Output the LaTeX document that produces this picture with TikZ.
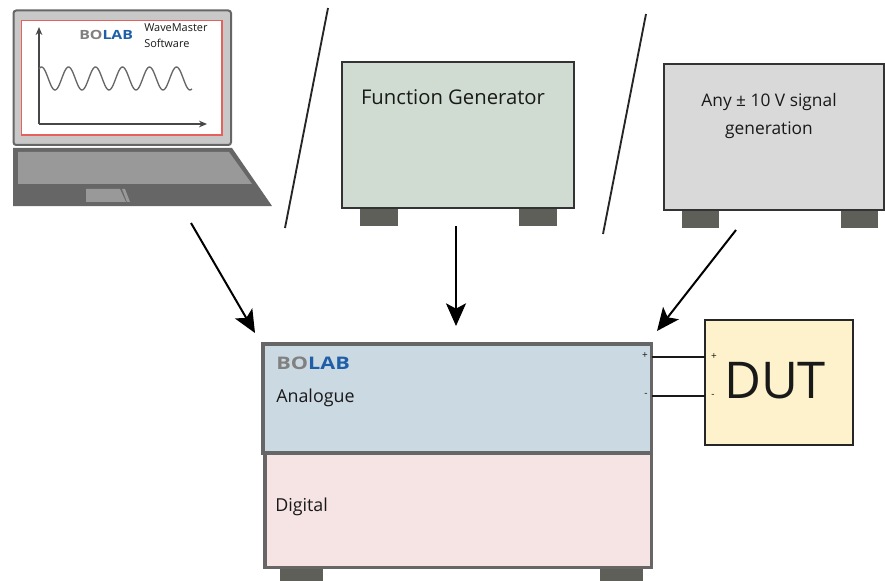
\documentclass[tikz,border=0pt]{standalone}
\usepackage{fontspec}
\setmainfont{Open Sans}
\usetikzlibrary{arrows.meta}
\definecolor{bdr}{HTML}{666666}
\definecolor{foot}{HTML}{5F5F5A}
\definecolor{logoblue}{HTML}{1F5FA8}
\definecolor{logogray}{HTML}{808080}
\definecolor{fgfill}{HTML}{D0DCD2}
\definecolor{sgfill}{HTML}{D9D9D9}
\definecolor{anafill}{HTML}{CBD9E3}
\definecolor{digfill}{HTML}{F5E4E3}
\definecolor{dutfill}{HTML}{FDF2CB}
\definecolor{scrframe}{HTML}{C8C8C8}
\definecolor{scrred}{HTML}{E4615C}
\tikzset{
  box/.style={draw=#1,line width=1.6pt,anchor=north west,inner sep=0pt,outer sep=0pt},
  footbox/.style={fill=foot,anchor=north west,inner sep=0pt,outer sep=0pt},
  txt/.style={inner sep=0pt,text=black!90,align=center},
  bigarrow/.style={line width=1.5pt,draw=black,-{Stealth[length=17pt,width=15pt,inset=4pt]}},
  divider/.style={line width=1.4pt,draw=black!85},
  lead/.style={line width=1.5pt,draw=black!90},
}
\newcommand{\logo}[1]{{\fontsize{#1}{#1}\fontspec{Open Sans}[FakeStretch=1.25]\bfseries\textcolor{logogray}{BO}\textcolor{logoblue}{LAB}}}
\begin{document}
\begin{tikzpicture}[x=0.75pt,y=-0.75pt]
\useasboundingbox (0,0) rectangle (885,581);
% laptop
\draw[bdr,fill=scrframe,line width=1.5pt,rounded corners=2pt] (13.5,10.5) rectangle (231,145);
\draw[draw=scrred,fill=white,line width=0.9pt] (21.5,20.5) rectangle (222,135);
\fill[bdr] (13,148) -- (232,148) -- (272,206) -- (13,206) -- cycle;
\fill[black!40] (18,152) -- (229,152) -- (252,184) -- (18,184) -- cycle;
\fill[black!40] (86,189) -- (120,189) -- (126,202) -- (86,202) -- cycle;
\fill[black!40] (122,189) -- (125,189) -- (130,202) -- (127,202) -- cycle;
\draw[bdr!70!black,line width=1.2pt,-{Stealth[length=6pt,width=5pt]}] (39,124) -- (39,27);
\draw[bdr!70!black,line width=1.2pt,-{Stealth[length=6pt,width=5pt]}] (38.5,124) -- (207,124);
\draw[bdr,line width=1pt,domain=39:192,samples=160,smooth] plot (\x,{78.5-11.5*cos(13.333*(\x-41.5))});
\node[txt,anchor=west] (logoa) at (79,35) {\logo{9.5pt}};
\node[txt,anchor=north west,align=left,font=\fontsize{8.2pt}{12pt}\selectfont] (sw) at (144,23) {WaveMaster\\Software};
% dividers
\coordinate (d1a) at (328,8); \coordinate (d1b) at (285,228);
\coordinate (d2a) at (646,14); \coordinate (d2b) at (603,234);
\draw[divider] (d1a) -- (d1b);
\draw[divider] (d2a) -- (d2b);
% function generator
\node[footbox,minimum width=28.5pt,minimum height=13pt] (fga) at (360,209) {};
\node[footbox,minimum width=28.5pt,minimum height=13pt] (fgb) at (519,209) {};
\node[box=black!80,fill=fgfill,minimum width=174pt,minimum height=109.5pt] (fg) at (342,62) {};
\node[txt,font=\fontsize{15.2pt}{17pt}\selectfont] (fgt) at (453,97) {Function Generator};
% signal box
\node[footbox,minimum width=28pt,minimum height=13pt] (sga) at (682,211) {};
\node[footbox,minimum width=28pt,minimum height=13pt] (sgb) at (841,211) {};
\node[box=black!80,fill=sgfill,minimum width=165pt,minimum height=109.5pt] (sg) at (664,64) {};
\node[txt,font=\fontsize{13pt}{21pt}\selectfont] (sgt) at (769,115.5) {Any ± 10 V signal\\generation};
% main unit
\node[footbox,minimum width=32pt,minimum height=11pt] (ma) at (280,569) {};
\node[footbox,minimum width=32pt,minimum height=11pt] (mb) at (600,569) {};
\node[box=bdr,fill=anafill,line width=2.6pt,minimum width=291.5pt,minimum height=81.75pt] (ana) at (263,344) {};
\node[box=bdr,fill=digfill,line width=2.6pt,minimum width=290pt,minimum height=86pt] (dig) at (265,453) {};
\node[txt,anchor=west] (logob) at (276,363) {\logo{13pt}};
\node[txt,anchor=west,font=\fontsize{13.4pt}{15pt}\selectfont] (analab) at (276,398) {Analogue};
\node[txt,anchor=west,font=\fontsize{13.4pt}{15pt}\selectfont] (diglab) at (275,507) {Digital};
\node[txt,font=\fontsize{7.5pt}{8pt}\selectfont] (pl) at (645,356) {+};
\node[txt,font=\fontsize{7.5pt}{8pt}\selectfont] (mi) at (646,395) {-};
% DUT
\node[box=black!85,fill=dutfill,line width=1.5pt,minimum width=111pt,minimum height=94pt] (dut) at (705,320) {};
\node[txt,font=\fontsize{38pt}{40pt}\selectfont] (dutt) at (775,381) {DUT};
\node[txt,font=\fontsize{7.5pt}{8pt}\selectfont] (pr) at (714,357) {+};
\node[txt,font=\fontsize{7.5pt}{8pt}\selectfont] (mr) at (713,396) {-};
\draw[lead] (ana.east |- pr) -- (dut.west |- pr);
\draw[lead] (ana.east |- mr) -- (dut.west |- mr);
% arrows
\coordinate (a1) at (191,223); \coordinate (a1e) at (255,333);
\coordinate (a2) at (456,226); \coordinate (a2e) at (456,326);
\coordinate (a3) at (736,230); \coordinate (a3e) at (657,331);
\draw[bigarrow] (a1) -- (a1e);
\draw[bigarrow] (a2) -- (a2e);
\draw[bigarrow] (a3) -- (a3e);
\end{tikzpicture}
\end{document}
